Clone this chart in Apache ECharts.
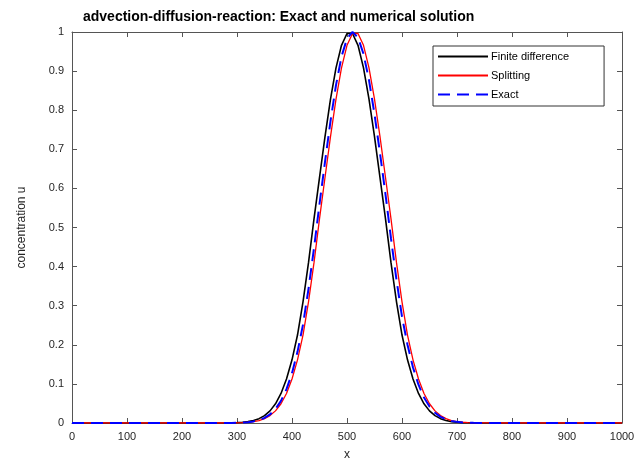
<!DOCTYPE html>
<html>
<head>
<meta charset="utf-8">
<script src="https://cdn.jsdelivr.net/npm/echarts@6/dist/echarts.min.js"></script>
<style>
  html, body { margin: 0; padding: 0; background: #fff; }
  #chart { width: 641px; height: 461px; }
</style>
</head>
<body>
<div id="chart"></div>
<script>
(function(){
    'use strict';

    // x positions of the samples
    var xs = [0, 100, 200, 250, 260, 270, 280, 290, 300, 310, 320, 330, 340, 350, 360, 370, 380, 390,
        400, 410, 420, 430, 440, 450, 460, 470, 480, 490, 500, 510, 520, 530, 540, 550, 560, 570, 580, 590,
        600, 610, 620, 630, 640, 650, 660, 670, 680, 690, 700, 710, 720, 730, 740, 750, 760, 770, 780,
        800, 900, 1000];

    var finiteDiff = [0, 0, 0, 0, 0.0001, 0.0001, 0.0002, 0.0005, 0.0010, 0.0019, 0.0035, 0.0063, 0.0111, 0.0189, 0.0310, 0.0492, 0.0756, 0.1124,
        0.1616, 0.2250, 0.31, 0.41, 0.522, 0.6278, 0.7323, 0.8282, 0.9083, 0.9660, 0.9962, 0.9962, 0.9660, 0.9083, 0.8282, 0.7323, 0.6278, 0.522, 0.41, 0.31,
        0.2250, 0.1616, 0.1124, 0.0756, 0.0492, 0.0310, 0.0189, 0.0111, 0.0063, 0.0035, 0.0019, 0.0010, 0.0005, 0.0002, 0.0001, 0.0001, 0, 0, 0,
        0, 0, 0];

    var splitting = [0, 0, 0, 0, 0, 0, 0.0001, 0.0002, 0.0005, 0.0010, 0.0019, 0.0035, 0.0063, 0.0111, 0.0189, 0.0310, 0.0492, 0.0756,
        0.1124, 0.1616, 0.2250, 0.31, 0.41, 0.522, 0.6278, 0.7323, 0.8282, 0.9083, 0.9660, 0.9962, 0.9962, 0.9660, 0.9083, 0.8282, 0.7323, 0.6278, 0.522, 0.41,
        0.31, 0.2250, 0.1616, 0.1124, 0.0756, 0.0492, 0.0310, 0.0189, 0.0111, 0.0063, 0.0035, 0.0019, 0.0010, 0.0005, 0.0002, 0.0001, 0.0001, 0, 0,
        0, 0, 0];

    var exact = [0, 0, 0, 0, 0, 0.0001, 0.0001, 0.0002, 0.0005, 0.0011, 0.0022, 0.0041, 0.0074, 0.0129, 0.0219, 0.0358, 0.0565, 0.0865,
        0.1275, 0.1820, 0.2515, 0.343, 0.447, 0.5600, 0.6678, 0.7720, 0.8640, 0.9370, 0.9830, 1, 0.9860, 0.9440, 0.8770, 0.7900, 0.6900, 0.5850, 0.472, 0.366,
        0.2720, 0.2000, 0.1420, 0.0980, 0.0650, 0.0420, 0.0262, 0.0158, 0.0092, 0.0052, 0.0029, 0.0015, 0.0008, 0.0004, 0.0002, 0.0001, 0, 0, 0,
        0, 0, 0];

    var seriesNames = ['Finite difference', 'Splitting', 'Exact'];
    var xTicks = ['0', '100', '200', '300', '400', '500', '600', '700', '800', '900', '1000'];

    function pairs(ys){
        var out = [];
        for (var i = 0; i < xs.length; i++) out.push([xs[i], ys[i]]);
        return out;
    }

    var font = 'Arial, "Liberation Sans", sans-serif';
    var axisColor = '#555';
    var textColor = '#262626';

    var solidIcon = 'path://M0,0h50v2h-50z';
    var dashIcon = 'path://M0,0h12v2h-12z M19,0h12v2h-12z M38,0h12v2h-12z';

    var xBase = {
        type: 'value', min: 0, max: 1000, interval: 100,
        axisLine: { show: true, onZero: false, lineStyle: { color: axisColor, width: 1 } },
        axisTick: { show: true, inside: true, length: 5, lineStyle: { color: axisColor } },
        splitLine: { show: false }
    };
    var yBase = {
        type: 'value', min: 0, max: 1, interval: 0.1,
        axisLine: { show: true, onZero: false, lineStyle: { color: axisColor, width: 1 } },
        axisTick: { show: true, inside: true, length: 5, lineStyle: { color: axisColor } },
        splitLine: { show: false }
    };

    var option = {
        backgroundColor: '#fff',
        animation: false,
        title: {
            text: 'advection-diffusion-reaction: Exact and numerical solution',
            left: 78, top: 5,
            textStyle: { fontFamily: font, fontSize: 14, fontWeight: 'bold', color: '#000' }
        },
        grid: { left: 72, right: 19, top: 32, bottom: 38, containLabel: false, outerBoundsMode: 'none' },
        legend: {
            orient: 'vertical',
            left: 433, top: 46,
            padding: [5, 35, 6, 5],
            itemWidth: 50, itemHeight: 2, itemGap: 8,
            backgroundColor: '#fff',
            borderColor: '#333', borderWidth: 1,
            textStyle: { fontFamily: font, fontSize: 11, color: '#000', padding: [0, 0, 0, -2] },
            data: [
                { name: seriesNames[0], icon: solidIcon },
                { name: seriesNames[1], icon: solidIcon },
                { name: seriesNames[2], icon: dashIcon }
            ]
        },
        xAxis: [
            echarts.util.merge({
                position: 'bottom',
                name: 'x', nameLocation: 'middle', nameGap: 26,
                nameMoveOverlap: false,
                nameTextStyle: { fontFamily: font, fontSize: 12, color: textColor },
                axisLabel: {
                    fontFamily: font, fontSize: 11, color: textColor, margin: 8,
                    formatter: function(v){ return xTicks[Math.round(v / 100)]; }
                }
            }, xBase, true),
            echarts.util.merge({ position: 'top', axisLabel: { show: false } }, xBase, true)
        ],
        yAxis: [
            echarts.util.merge({
                position: 'left',
                name: 'concentration u', nameLocation: 'middle', nameGap: 44,
                nameMoveOverlap: false,
                nameTextStyle: { fontFamily: font, fontSize: 12, color: textColor },
                axisLabel: { fontFamily: font, fontSize: 11, color: textColor, margin: 8 }
            }, yBase, true),
            echarts.util.merge({ position: 'right', axisLabel: { show: false } }, yBase, true)
        ],
        series: [
            {
                name: seriesNames[0], type: 'line', xAxisIndex: 0, yAxisIndex: 0,
                data: pairs(finiteDiff), showSymbol: false, symbol: 'none',
                lineStyle: { color: '#000', width: 1.6 }, itemStyle: { color: '#000' }
            },
            {
                name: seriesNames[1], type: 'line', xAxisIndex: 0, yAxisIndex: 0,
                data: pairs(splitting), showSymbol: false, symbol: 'none',
                lineStyle: { color: '#ff0000', width: 1.3 }, itemStyle: { color: '#ff0000' }
            },
            {
                name: seriesNames[2], type: 'line', xAxisIndex: 0, yAxisIndex: 0,
                data: pairs(exact), showSymbol: false, symbol: 'none',
                lineStyle: { color: '#0000ff', width: 2, type: [12, 7] }, itemStyle: { color: '#0000ff' }
            }
        ]
    };

    var chart = echarts.init(document.getElementById('chart'), null, { renderer: 'canvas' });
    chart.setOption(option);
})();
</script>
</body>
</html>
